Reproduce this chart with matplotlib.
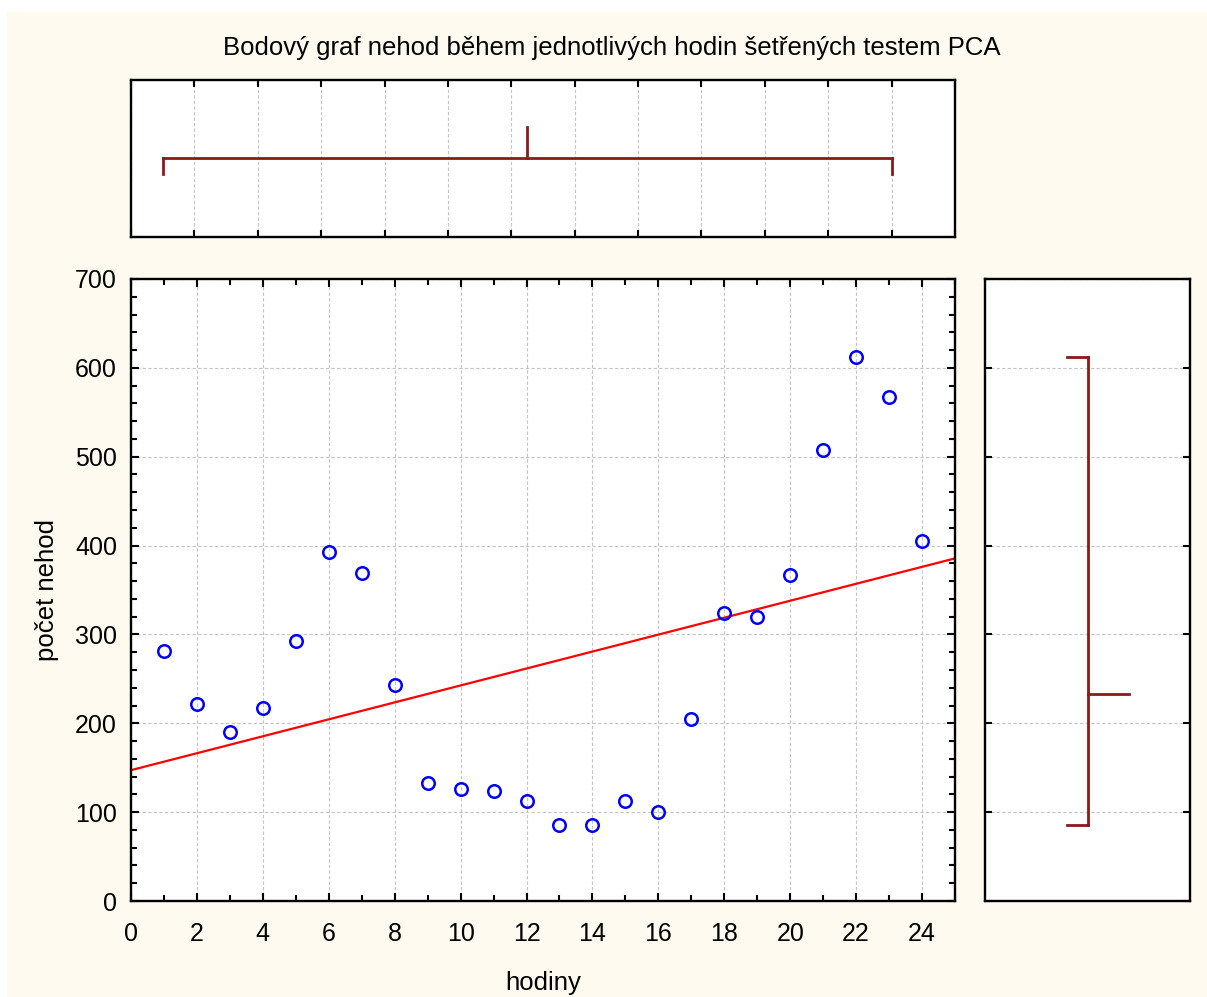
import matplotlib.pyplot as plt
import numpy as np
from matplotlib.patches import Rectangle
from matplotlib.ticker import MultipleLocator

plt.rcParams['font.family'] = ['Liberation Sans', 'DejaVu Sans']

# data
hodiny = np.arange(1, 25)
nehody = np.array([281, 222, 190, 217, 293, 393, 369, 243,
                   133, 126, 124, 112, 86, 86, 112, 100,
                   205, 324, 320, 367, 507, 612, 567, 405])

title = "Bodový graf nehod během jednotlivých hodin šetřených testem PCA"
xlabel = "hodiny"
ylabel = "počet nehod"

cream = '#FFFAEF'
dark_red = '#8B1A1A'
grid_col = '#C4C4C4'

fig = plt.figure(figsize=(12.07, 9.97), dpi=100, facecolor='white')
# cream background with a thin white border top/left
fig.patches.append(Rectangle((7 / 1207, 0), 1 - 7 / 1207, 1 - 12 / 997,
                             transform=fig.transFigure, facecolor=cream,
                             edgecolor='none', zorder=-10))

W, H = 1207, 997
def box(x0, y0, x1, y1):
    return [x0 / W, 1 - y1 / H, (x1 - x0) / W, (y1 - y0) / H]

ax = fig.add_axes(box(131, 279, 955, 901))
ax_top = fig.add_axes(box(131, 80, 955, 237))
ax_right = fig.add_axes(box(985, 279, 1190, 901))

for a in (ax, ax_top, ax_right):
    a.set_facecolor('white')
    for s in a.spines.values():
        s.set_linewidth(1.7)
        s.set_color('black')

# main scatter
ax.plot(hodiny, nehody, 'o', mfc='none', mec='blue', ms=9, mew=1.8,
        zorder=3, clip_on=False)
k, q = np.polyfit(hodiny, nehody, 1)
xl = np.array([0, 25])
ax.plot(xl, k * xl + q, color='red', lw=1.6, zorder=2)

ax.set_xlim(0, 25)
ax.set_ylim(0, 700)
ax.xaxis.set_major_locator(MultipleLocator(2))
ax.xaxis.set_minor_locator(MultipleLocator(1))
ax.yaxis.set_major_locator(MultipleLocator(100))
ax.yaxis.set_minor_locator(MultipleLocator(20))
ax.tick_params(which='both', direction='in', top=True, right=True,
               width=1.5, labelsize=18)
ax.tick_params(axis='y', pad=10)
ax.tick_params(axis='x', pad=15)
ax.tick_params(which='major', length=6)
ax.tick_params(which='minor', length=4)
ax.grid(True, which='major', color=grid_col, ls=(0, (3, 2)), lw=0.8)
ax.set_axisbelow(True)

fig.text(543 / W, 1 - 983 / H, xlabel, ha='center', va='center', fontsize=18.5)
fig.text(47 / W, 1 - 590 / H, ylabel, ha='center', va='center',
         rotation=90, fontsize=18.5)
fig.text(612 / W, 1 - 48 / H, title, ha='center', va='center', fontsize=18.5)

# top marginal: min / median / max of hodiny
x_min, x_med, x_max = hodiny.min(), np.median(hodiny), hodiny.max()
ax_top.set_xlim(0, 26)
ax_top.set_ylim(0, 1)
ax_top.plot([x_min, x_max], [0.5, 0.5], color=dark_red, lw=2)
ax_top.plot([x_min, x_min], [0.5, 0.4], color=dark_red, lw=2)
ax_top.plot([x_max, x_max], [0.5, 0.4], color=dark_red, lw=2)
ax_top.plot([x_med, x_med], [0.5, 0.7], color=dark_red, lw=2)
ax_top.xaxis.set_major_locator(MultipleLocator(2))
ax_top.set_yticks([])
ax_top.tick_params(axis='x', direction='in', top=True, length=5, width=1.5,
                   labelbottom=False)
ax_top.grid(True, axis='x', color=grid_col, ls=(0, (3, 2)), lw=0.8)
ax_top.set_axisbelow(True)

# right marginal: min / median / max of nehody
y_min, y_med, y_max = nehody.min(), np.median(nehody), nehody.max()
ax_right.set_ylim(0, 700)
ax_right.set_xlim(0, 1)
ax_right.plot([0.5, 0.5], [y_min, y_max], color=dark_red, lw=2)
ax_right.plot([0.5, 0.4], [y_min, y_min], color=dark_red, lw=2)
ax_right.plot([0.5, 0.4], [y_max, y_max], color=dark_red, lw=2)
ax_right.plot([0.5, 0.7], [y_med, y_med], color=dark_red, lw=2)
ax_right.yaxis.set_major_locator(MultipleLocator(100))
ax_right.set_xticks([])
ax_right.tick_params(axis='y', direction='in', right=True, length=5, width=1.5,
                     labelleft=False)
ax_right.grid(True, axis='y', color=grid_col, ls=(0, (3, 2)), lw=0.8)
ax_right.set_axisbelow(True)

fig.savefig('out.png', dpi=100, facecolor=fig.get_facecolor())
